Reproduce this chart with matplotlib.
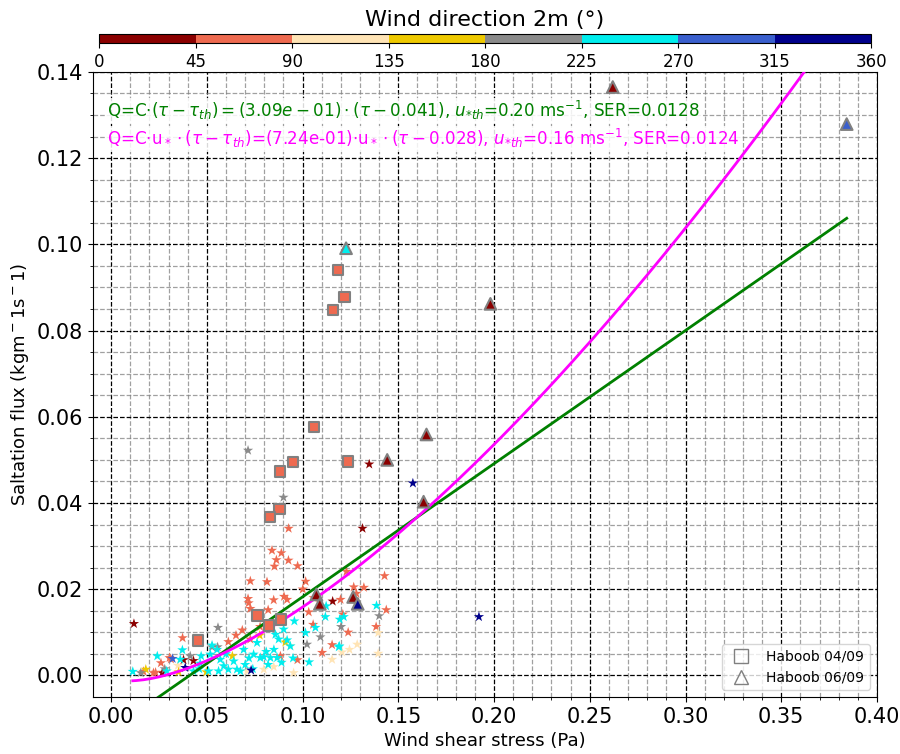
import numpy as np
import matplotlib
matplotlib.use('Agg')
import matplotlib.pyplot as plt
from matplotlib.colors import ListedColormap, BoundaryNorm
from matplotlib.lines import Line2D

# wind direction colour classes (45 degree bins)
dir_bounds = [0, 45, 90, 135, 180, 225, 270, 315, 360]
dir_colors = ['#8b0000', '#ee6a50', '#ffe4b5', '#eec900', '#8a8a8a', '#00eeee', '#3a5fcd', '#00008b']

# stars: all hourly samples, grouped by wind direction class
star_darkred = [(0.0119, 0.0120), (0.1348, 0.0490), (0.1313, 0.0341), (0.1157, 0.0172), (0.0378, 0.0036),
                (0.0430, 0.0034), (0.0267, 0.0006)]
star_tomato = [(0.0927, 0.0341), (0.0840, 0.0290), (0.0889, 0.0284), (0.0863, 0.0268), (0.0926, 0.0267),
               (0.0974, 0.0254), (0.0853, 0.0253), (0.0727, 0.0219), (0.0814, 0.0217), (0.1016, 0.0218),
               (0.0715, 0.0178), (0.0718, 0.0168), (0.0727, 0.0155), (0.0849, 0.0175), (0.0903, 0.0183),
               (0.0919, 0.0176), (0.0820, 0.0152), (0.1001, 0.0200), (0.1058, 0.0180), (0.1229, 0.0241),
               (0.1267, 0.0205), (0.1320, 0.0204), (0.1281, 0.0190), (0.1198, 0.0176), (0.1428, 0.0231),
               (0.1437, 0.0152), (0.1384, 0.0113), (0.1238, 0.0100), (0.1154, 0.0071), (0.1102, 0.0053),
               (0.1055, 0.0118), (0.1032, 0.0147), (0.0973, 0.0036), (0.0884, 0.0045), (0.0685, 0.0105),
               (0.0612, 0.0078), (0.0652, 0.0093), (0.0373, 0.0087), (0.0305, 0.0041), (0.0260, 0.0029),
               (0.0232, 0.0007), (0.0169, 0.0009), (0.0778, 0.0113), (0.0727, 0.0084), (0.1210, 0.0142),
               (0.0312, 0.0038), (0.0221, 0.0006)]
star_moccasin = [(0.1395, 0.0099), (0.1285, 0.0072), (0.1245, 0.0060), (0.1206, 0.0054), (0.1154, 0.0037),
                 (0.1395, 0.0051), (0.0797, 0.0014), (0.0849, 0.0020), (0.0953, 0.0006), (0.0710, 0.0010),
                 (0.0936, 0.0068), (0.0349, 0.0023)]
star_gold = [(0.0910, 0.0077), (0.0633, 0.0045), (0.0776, 0.0093), (0.0181, 0.0014), (0.0497, 0.0008),
             (0.0352, 0.0008)]
star_gray = [(0.0715, 0.0522), (0.0900, 0.0413), (0.0558, 0.0111), (0.0527, 0.0066), (0.0556, 0.0066),
             (0.1093, 0.0089), (0.1201, 0.0113), (0.1400, 0.0138), (0.0413, 0.0045), (0.1023, 0.0072),
             (0.0155, 0.0006), (0.0280, 0.0015)]
star_cyan = [(0.0113, 0.0009), (0.0241, 0.0045), (0.0372, 0.0059), (0.0527, 0.0070), (0.0465, 0.0028),
             (0.0570, 0.0037), (0.0612, 0.0014), (0.0692, 0.0060), (0.0762, 0.0076), (0.0797, 0.0043),
             (0.0858, 0.0095), (0.0875, 0.0084), (0.0901, 0.0107), (0.0936, 0.0068), (0.0957, 0.0126),
             (0.1015, 0.0099), (0.1034, 0.0031), (0.1067, 0.0111), (0.1119, 0.0136), (0.1194, 0.0130),
             (0.1215, 0.0136), (0.1189, 0.0066), (0.1123, 0.0161), (0.1386, 0.0162), (0.0657, 0.0014),
             (0.0640, 0.0033), (0.0588, 0.0022), (0.0561, 0.0010), (0.0744, 0.0049), (0.0779, 0.0041),
             (0.0832, 0.0041), (0.0867, 0.0041), (0.0675, 0.0010), (0.0509, 0.0010), (0.0518, 0.0049),
             (0.0553, 0.0060), (0.0919, 0.0082), (0.0361, 0.0037), (0.0430, 0.0010), (0.0460, 0.0015),
             (0.0700, 0.0025), (0.0720, 0.0040), (0.0810, 0.0055), (0.0850, 0.0060), (0.0600, 0.0050),
             (0.0950, 0.0040), (0.0470, 0.0045), (0.0820, 0.0025), (0.0890, 0.0030), (0.0740, 0.0015),
             (0.1192, 0.0068), (0.0290, 0.0010)]
star_royalblue = [(0.0321, 0.0039)]
star_navy = [(0.1576, 0.0446), (0.1921, 0.0136), (0.0731, 0.0012), (0.0387, 0.0018)]
star_groups = [(star_darkred, 22), (star_tomato, 67), (star_moccasin, 112), (star_gold, 157),
               (star_gray, 202), (star_cyan, 247), (star_royalblue, 292), (star_navy, 337)]

# Haboob 04/09 (squares), all from the 45-90 sector
sq_tau = [0.1184, 0.1219, 0.1159, 0.1058, 0.0948, 0.1238, 0.0882, 0.0880, 0.0828, 0.0453, 0.0765, 0.0823, 0.0887]
sq_flux = [0.0940, 0.0878, 0.0848, 0.0577, 0.0495, 0.0496, 0.0473, 0.0386, 0.0368, 0.0081, 0.0139, 0.0116, 0.0130]
sq_dir = [67] * len(sq_tau)

# Haboob 06/09 (triangles)
tri_tau = [0.1227, 0.1981, 0.1647, 0.1442, 0.1632, 0.2620, 0.1072, 0.1090, 0.1264, 0.3842, 0.1288]
tri_flux = [0.0991, 0.0862, 0.0559, 0.0500, 0.0403, 0.1365, 0.0188, 0.0166, 0.0182, 0.1279, 0.0166]
tri_dir = [247, 22, 22, 22, 22, 22, 22, 22, 22, 292, 337]

# fitted parameters shown in the annotations
C_lin, tau_th_lin = 0.309, 0.041
C_ust, tau_th_ust = 0.724, 0.028
rho_air = 1.08

star_tau = np.array([p[0] for g, d in star_groups for p in g])
star_flux = np.array([p[1] for g, d in star_groups for p in g])
star_dir = np.array([d for g, d in star_groups for p in g])

cmap = ListedColormap(dir_colors)
norm = BoundaryNorm(dir_bounds, cmap.N)

fig = plt.figure(figsize=(9, 7.54), dpi=100)
ax = fig.add_axes([0.1033, 0.0756, 0.8711, 0.829])

ax.scatter(star_tau, star_flux, c=star_dir, cmap=cmap, norm=norm, marker='*', s=60, linewidths=0, zorder=2)

all_tau = np.concatenate([star_tau, sq_tau, tri_tau])
tau_fit = np.linspace(all_tau.min(), all_tau.max(), 200)
q_lin = C_lin * (tau_fit - tau_th_lin)
q_ust = C_ust * np.sqrt(tau_fit / rho_air) * (tau_fit - tau_th_ust)
ax.plot(tau_fit, q_lin, color='green', lw=2, zorder=3)
ax.plot(tau_fit, q_ust, color='magenta', lw=2, zorder=3)

ax.scatter(sq_tau, sq_flux, c=sq_dir, cmap=cmap, norm=norm, marker='s', s=55, edgecolors='gray', linewidths=1.5, zorder=4)
ax.scatter(tri_tau, tri_flux, c=tri_dir, cmap=cmap, norm=norm, marker='^', s=70, edgecolors='gray', linewidths=1.5, zorder=4)

ax.set_xlim(-0.0095, 0.40)
ax.set_ylim(-0.005, 0.14)
ax.set_xticks(np.arange(0, 0.401, 0.05))
ax.set_yticks(np.arange(0, 0.141, 0.02))
ax.set_xticks(np.arange(0, 0.401, 0.01), minor=True)
ax.set_yticks(np.arange(0, 0.141, 0.005), minor=True)
ax.grid(which='major', color='black', linestyle='--', lw=0.9)
ax.grid(which='minor', color='gray', linestyle='--', lw=0.9, alpha=0.75)
ax.set_axisbelow(True)
ax.tick_params(axis='both', which='major', labelsize=15)
ax.set_xlabel('Wind shear stress (Pa)', fontsize=13)
ax.set_ylabel('Saltation flux (kgm$^-1$s$^-1$)', fontsize=13)

box = dict(facecolor='white', edgecolor='none', alpha=0.85, pad=1)
ax.text(-0.002, 0.1310,
        r'Q=C$\cdot(\tau-\tau_{th})=(3.09e-01)\cdot(\tau-0.041)$, $u_{*th}$=0.20 ms$^{-1}$, SER=0.0128',
        color='green', fontsize=12.1, va='center', bbox=box, zorder=5)
ax.text(-0.002, 0.1245,
        r'Q=C$\cdot$u$_*\cdot(\tau-\tau_{th})$=(7.24e-01)$\cdot$u$_*\cdot(\tau-0.028)$, $u_{*th}$=0.16 ms$^{-1}$, SER=0.0124',
        color='magenta', fontsize=12.1, va='center', bbox=box, zorder=5)

handles = [Line2D([], [], marker='s', ls='none', markerfacecolor='none', markeredgecolor='gray', markersize=10),
           Line2D([], [], marker='^', ls='none', markerfacecolor='none', markeredgecolor='gray', markersize=10)]
ax.legend(handles, ['Haboob 04/09', 'Haboob 06/09'], loc='lower right', fontsize=10)

cax = fig.add_axes([0.110, 0.943, 0.858, 0.012])
sm = plt.cm.ScalarMappable(cmap=cmap, norm=norm)
cb = fig.colorbar(sm, cax=cax, orientation='horizontal', ticks=dir_bounds)
cb.ax.tick_params(labelsize=12)
cb.ax.set_title('Wind direction 2m (°)', fontsize=16)

fig.savefig('out.png', dpi=100)
